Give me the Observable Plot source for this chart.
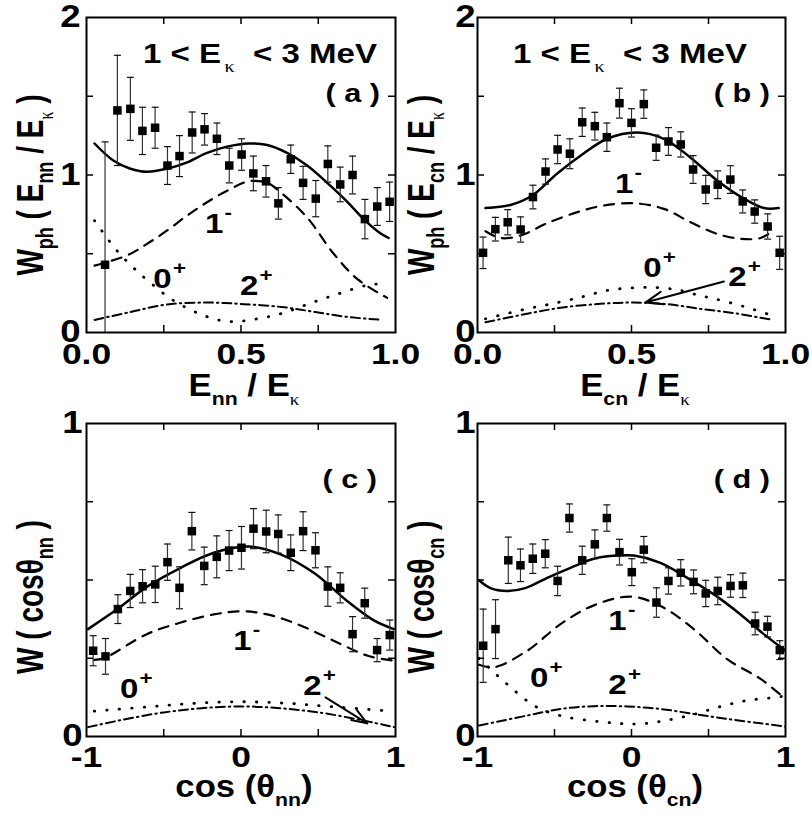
<!DOCTYPE html>
<html><head><meta charset="utf-8">
<script src="https://cdn.jsdelivr.net/npm/d3@7"></script>
<script src="https://cdn.jsdelivr.net/npm/@observablehq/plot@0.6"></script>
<style>
body{margin:0;background:#fff;}
#wrap{position:relative;width:811px;height:825px;overflow:hidden;background:#fff;}
#wrap svg{position:absolute;}
</style></head><body><div id="wrap"></div>
<script>
// ---------- Panel (a): W_ph(E_nn/E_K) ----------
const aX = [0.06,0.10,0.142,0.181,0.222,0.262,0.301,0.342,0.382,0.422,0.462,0.502,0.540,0.581,0.621,0.661,0.701,0.742,0.781,0.821,0.861,0.901,0.941,0.981];
const aY = [0.43,1.41,1.42,1.28,1.30,1.06,1.12,1.27,1.29,1.23,1.06,1.13,1.01,0.96,0.82,1.10,0.95,0.85,1.07,0.94,1.00,0.72,0.80,0.83];
const aErr = [0.78,0.35,0.20,0.15,0.13,0.12,0.13,0.13,0.10,0.10,0.11,0.10,0.11,0.10,0.10,0.09,0.105,0.115,0.115,0.11,0.12,0.125,0.12,0.125];
const aSolidX = [0.026,0.088,0.142,0.196,0.261,0.326,0.39,0.455,0.525,0.585,0.649,0.714,0.779,0.844,0.897,0.951,0.978];
const aSolidY = [1.20,1.09,1.04,1.02,1.04,1.08,1.14,1.18,1.20,1.19,1.14,1.06,0.95,0.83,0.72,0.63,0.60];
const aDashX = [0.026,0.132,0.196,0.261,0.326,0.39,0.455,0.525,0.585,0.628,0.714,0.80,0.876,0.973];
const aDashY = [0.425,0.49,0.563,0.648,0.743,0.827,0.90,0.96,0.95,0.89,0.73,0.50,0.34,0.22];
const aDotX = [0.026,0.094,0.142,0.18,0.223,0.272,0.364,0.455,0.547,0.639,0.73,0.822,0.908,0.96];
const aDotY = [0.71,0.53,0.43,0.36,0.29,0.215,0.12,0.07,0.085,0.125,0.19,0.25,0.30,0.31];
const aDdX = [0.026,0.142,0.261,0.39,0.51,0.64,0.74,0.84,0.957];
const aDdY = [0.08,0.13,0.178,0.19,0.18,0.16,0.13,0.10,0.08];
const aLabX = [0.385,0.218,0.498];
const aLabY = [0.63,0.28,0.235];

// ---------- Panel (b): W_ph(E_cn/E_K) ----------
const bX = [0.018,0.058,0.098,0.14,0.18,0.221,0.26,0.30,0.34,0.381,0.42,0.461,0.50,0.54,0.58,0.62,0.66,0.70,0.741,0.78,0.821,0.861,0.90,0.942,0.981];
const bY = [0.506,0.656,0.70,0.654,0.86,1.022,1.162,1.135,1.335,1.31,1.24,1.456,1.331,1.45,1.173,1.213,1.194,1.035,0.908,0.938,0.971,0.832,0.768,0.673,0.506];
const bErr = [0.10,0.075,0.08,0.08,0.075,0.08,0.09,0.095,0.09,0.088,0.09,0.095,0.09,0.09,0.08,0.088,0.08,0.088,0.09,0.088,0.088,0.073,0.074,0.08,0.105];
const bSolidX = [0.026,0.107,0.178,0.259,0.34,0.421,0.518,0.605,0.692,0.778,0.865,0.93,0.978];
const bSolidY = [0.79,0.81,0.87,1.01,1.13,1.23,1.27,1.23,1.11,0.965,0.85,0.79,0.79];
const bDashX = [0.026,0.075,0.14,0.226,0.324,0.41,0.513,0.605,0.692,0.778,0.854,0.919,0.962];
const bDashY = [0.643,0.60,0.616,0.694,0.764,0.806,0.82,0.785,0.70,0.626,0.595,0.60,0.65];
const bDotX = [0.026,0.16,0.26,0.345,0.42,0.51,0.59,0.66,0.72,0.77,0.865,0.957];
const bDotY = [0.087,0.15,0.19,0.229,0.267,0.284,0.284,0.267,0.235,0.214,0.165,0.108];
const bDdX = [0.026,0.161,0.269,0.399,0.508,0.616,0.724,0.843,0.957];
const bDdY = [0.065,0.119,0.157,0.182,0.19,0.18,0.15,0.12,0.08];
const bLabX = [0.448,0.54,0.816];
const bLabY = [0.88,0.35,0.29];
const bArrow = {x1: 0.80, y1: 0.324, x2: 0.545, y2: 0.19};

// ---------- Panel (c): W(cos theta_nn) ----------
const cX = [-0.957,-0.877,-0.797,-0.717,-0.637,-0.555,-0.476,-0.398,-0.318,-0.238,-0.157,-0.077,0.003,0.081,0.163,0.241,0.322,0.402,0.482,0.562,0.642,0.722,0.801,0.881,0.963];
const cY = [0.274,0.256,0.407,0.465,0.48,0.486,0.557,0.475,0.656,0.545,0.574,0.594,0.603,0.664,0.655,0.647,0.587,0.656,0.595,0.479,0.475,0.327,0.426,0.276,0.324];
const cErr = [0.048,0.057,0.046,0.053,0.053,0.058,0.058,0.067,0.06,0.06,0.067,0.064,0.068,0.064,0.068,0.061,0.057,0.062,0.056,0.063,0.048,0.056,0.048,0.037,0.048];
const cSolidX = [-0.99,-0.80,-0.61,-0.39,-0.176,0.05,0.256,0.471,0.687,0.86,0.99];
const cSolidY = [0.343,0.407,0.478,0.539,0.587,0.607,0.582,0.523,0.433,0.371,0.343];
const cDashX = [-0.95,-0.888,-0.61,-0.39,-0.176,0,0.17,0.364,0.60,0.82,0.99];
const cDashY = [0.245,0.25,0.327,0.364,0.39,0.40,0.39,0.359,0.306,0.258,0.242];
const cDotX = [-0.95,-0.6,-0.3,0,0.3,0.6,0.97];
const cDotY = [0.081,0.095,0.106,0.111,0.106,0.095,0.081];
const cDdX = [-0.99,-0.5,0,0.5,0.99];
const cDdY = [0.03,0.077,0.096,0.077,0.03];
const cLabX = [-0.047,-0.78,0.406];
const cLabY = [0.274,0.12,0.13];
const cArrow = {x1: 0.547, y1: 0.125, x2: 0.817, y2: 0.042};

// ---------- Panel (d): W(cos theta_cn) ----------
const dX = [-0.963,-0.883,-0.80,-0.721,-0.641,-0.56,-0.48,-0.403,-0.32,-0.238,-0.16,-0.078,0.002,0.08,0.162,0.24,0.32,0.403,0.482,0.56,0.643,0.723,0.803,0.883,0.963];
const dY = [0.29,0.343,0.563,0.547,0.568,0.584,0.497,0.698,0.563,0.614,0.698,0.589,0.525,0.597,0.428,0.497,0.523,0.494,0.457,0.465,0.481,0.483,0.361,0.351,0.276];
const dErr = [0.117,0.094,0.074,0.052,0.047,0.045,0.047,0.045,0.045,0.046,0.042,0.041,0.043,0.042,0.047,0.042,0.042,0.038,0.042,0.044,0.036,0.039,0.036,0.033,0.03];
const dSolidX = [-0.99,-0.916,-0.807,-0.69,-0.547,-0.396,-0.245,-0.093,0.015,0.188,0.362,0.535,0.708,0.859,1.0];
const dSolidY = [0.499,0.474,0.465,0.474,0.507,0.539,0.568,0.578,0.578,0.555,0.507,0.454,0.39,0.327,0.274];
const dDashX = [-0.99,-0.894,-0.677,-0.461,-0.245,-0.006,0.188,0.405,0.621,0.838,1.0];
const dDashY = [0.229,0.221,0.274,0.359,0.419,0.447,0.417,0.343,0.247,0.184,0.12];
const dDotX = [-0.99,-0.81,-0.62,-0.45,-0.25,-0.09,0.05,0.21,0.40,0.58,0.75,0.935,1.0];
const dDotY = [0.25,0.168,0.095,0.065,0.05,0.042,0.04,0.05,0.07,0.096,0.115,0.125,0.13];
const dDdX = [-0.99,-0.677,-0.461,-0.245,-0.028,0.188,0.405,0.621,0.838,1.0];
const dDdY = [0.035,0.067,0.088,0.097,0.096,0.088,0.072,0.056,0.042,0.032];
const dLabX = [-0.147,-0.656,-0.147];
const dLabY = [0.34,0.157,0.134];

// ---------- shared labels / ticks ----------
const labBase = ["1","0","2"];
const labSup = ["-","+","+"];
const energyTicks = [0, 0.5, 1];
const energyMinor = [0.25, 0.5, 0.75];
const cosTicks = [-1, 0, 1];
const cosMinor = [-0.5, 0, 0.5];
const wphTicks = [0, 1, 2];
const wphMinor = [0.5, 1, 1.5];
const wTicks = [0, 1];
const wMinor = [0.25, 0.5, 0.75];

const SANS = "'Liberation Sans', Arial, Helvetica, sans-serif";
const SERIF = "'Liberation Serif', 'Times New Roman', serif";
const SX = 1.18;

function richText(sel, x, y, parts, o = {}) {
  const g = sel.append("g").attr("transform",
    `translate(${x},${y}) scale(${o.sx ?? SX},1)` + (o.rotate ? ` rotate(${o.rotate})` : ""));
  const t = g.append("text")
    .attr("text-anchor", o.anchor || "start")
    .attr("font-family", SANS).attr("font-weight", "bold")
    .attr("font-size", o.size || 28).attr("fill", "black")
    .style("white-space", "pre");
  let cur = 0;
  for (const p of parts) {
    const ts = t.append("tspan").text(p.t);
    const target = p.shift || 0;
    if (target !== cur) { ts.attr("dy", target - cur); cur = target; }
    if (p.size) ts.attr("font-size", p.size);
    if (p.serif) ts.attr("font-family", SERIF).attr("font-weight", "normal");
    if (p.dx) ts.attr("dx", p.dx);
  }
}

const capSymbol = {draw(ctx, size) { const r = Math.sqrt(size / Math.PI); ctx.moveTo(-r, 0); ctx.lineTo(r, 0); }};
const zip2 = (xs, ys) => xs.map((x, i) => ({x, y: ys[i]}));

function makePanel(p) {
  const iw = p.width - p.ml - p.mr, ih = p.height - p.mt - p.mb;
  const pts = p.px.map((x, i) => ({x, y: p.py[i], e: p.pe[i]}));
  const marks = [
    Plot.line(zip2(p.sol[0], p.sol[1]), {x: "x", y: "y", curve: "catmull-rom", stroke: "black", strokeWidth: 2.5, clip: true}),
    Plot.line(zip2(p.dash[0], p.dash[1]), {x: "x", y: "y", curve: "catmull-rom", stroke: "black", strokeWidth: 2.2, strokeDasharray: "10,8", clip: true}),
    Plot.line(zip2(p.dot[0], p.dot[1]), {x: "x", y: "y", curve: "catmull-rom", stroke: "black", strokeWidth: 2.8, strokeDasharray: "0.5,12", strokeLinecap: "round", clip: true}),
    Plot.line(zip2(p.dd[0], p.dd[1]), {x: "x", y: "y", curve: "catmull-rom", stroke: "black", strokeWidth: 2, strokeDasharray: "9,4,1.5,4", clip: true}),
    Plot.ruleX(pts, {x: "x", y1: d => d.y - d.e, y2: d => d.y + d.e, stroke: "#333", strokeWidth: 1.2, clip: true}),
    Plot.dot(pts, {x: "x", y: d => d.y + d.e, symbol: capSymbol, r: 3.5, stroke: "#111", strokeWidth: 1.2, fill: "none", clip: true}),
    Plot.dot(pts, {x: "x", y: d => d.y - d.e, symbol: capSymbol, r: 3.5, stroke: "#111", strokeWidth: 1.2, fill: "none", clip: true}),
    Plot.dot(pts, {x: "x", y: "y", symbol: "square", r: 4.8, fill: "black", stroke: "none"}),
  ];
  if (p.arrow) marks.push(Plot.arrow([p.arrow], {x1: "x1", y1: "y1", x2: "x2", y2: "y2", stroke: "black", strokeWidth: 2, headLength: 14, headAngle: 40}));
  marks.push(
    Plot.tickX(p.xMinor, {x: d => d, insetTop: ih - 7, stroke: "black", strokeWidth: 1.5}),
    Plot.tickX(p.xMinor, {x: d => d, insetBottom: ih - 7, stroke: "black", strokeWidth: 1.5}),
    Plot.tickY(p.yMinor, {y: d => d, insetRight: iw - 7, stroke: "black", strokeWidth: 1.5}),
    Plot.tickY(p.yMinor, {y: d => d, insetLeft: iw - 7, stroke: "black", strokeWidth: 1.5}),
    Plot.frame({stroke: "black", strokeWidth: 2}),
    Plot.axisX(p.xTicks, {tickSize: 0, tickPadding: p.xPad, tickFormat: p.xFmt, fontSize: 30, fontWeight: "bold", fontFamily: SANS, label: null}),
    Plot.axisY(p.yTicks, {tickSize: 0, tickPadding: p.yPad, tickFormat: d => String(d), fontSize: 31, fontWeight: "bold", fontFamily: SANS, label: null})
  );
  const plot = Plot.plot({
    width: p.width, height: p.height,
    marginTop: p.mt, marginLeft: p.ml, marginRight: p.mr, marginBottom: p.mb,
    x: {domain: p.xDomain, label: null},
    y: {domain: p.yDomain, label: null},
    style: `background: transparent; overflow: visible; font-family: ${SANS}; font-weight: bold; color: black;`,
    marks
  });
  plot.style.left = p.left + "px";
  plot.style.top = p.top + "px";
  document.getElementById("wrap").appendChild(plot);
  const svg = d3.select(plot);
  // horizontal stretch of tick labels (keeps Plot's own em offsets)
  svg.selectAll('g[aria-label$="tick label"] text').each(function () {
    const t = d3.select(this);
    const xa = t.attr("x"), ya = t.attr("y");
    let pre = "";
    if (xa != null && xa !== "" && !isNaN(+xa)) { pre += ` translate(${+xa},0)`; t.attr("x", null); }
    if (ya != null && ya !== "" && !isNaN(+ya)) { pre += ` translate(0,${+ya})`; t.attr("y", null); }
    t.attr("transform", `${t.attr("transform") || ""}${pre} scale(${SX},1)`);
  });
  const sx = plot.scale("x"), sy = plot.scale("y");
  // curve labels 1-, 0+, 2+
  p.labX.forEach((lx, i) => {
    richText(svg, sx.apply(lx), sy.apply(p.labY[i]),
      [{t: labBase[i]}, {t: labSup[i], size: 19, shift: -14, dx: 1}], {size: 28});
  });
  if (p.title) richText(svg, p.title.x, p.title.y, [{t: "1 < E"}, {t: "κ", size: 17, serif: true, shift: 9, dx: 3}, {t: "  < 3 MeV", shift: 0}], {anchor: p.title.anchor, size: 28});
  richText(svg, p.tag.x, p.tag.y, [{t: p.tag.t}], {anchor: "end", size: 26});
  richText(svg, p.ylab.x, p.ylab.y, p.ylab.parts, {anchor: "middle", rotate: -90, size: 28, sx: 1.3});
  richText(svg, p.xlab.x, p.xlab.y, p.xlab.parts, {anchor: "middle", size: 31, sx: 1.12});
}

const fmt1 = d => d.toFixed(1);
const fmtC = d => String(d);

makePanel({left: 0, top: 0, width: 400, height: 406, mt: 17, ml: 86, mr: 5, mb: 74,
  xDomain: [0, 1], yDomain: [0, 2], xTicks: energyTicks, xMinor: energyMinor, yTicks: wphTicks, yMinor: wphMinor,
  xFmt: fmt1, xPad: 10, yPad: 6,
  px: aX, py: aY, pe: aErr, sol: [aSolidX, aSolidY], dash: [aDashX, aDashY], dot: [aDotX, aDotY], dd: [aDdX, aDdY],
  labX: aLabX, labY: aLabY,
  title: {x: 377, y: 63, anchor: "end"}, tag: {x: 380, y: 102, t: "( a )"},
  ylab: {x: 43, y: 185, parts: [{t: "W"}, {t: "ph", size: 18, shift: 8}, {t: " ( E", shift: 0}, {t: "nn", size: 18, shift: 8}, {t: " / E", shift: 0}, {t: "κ", size: 16, serif: true, shift: 8}, {t: " )", shift: 0}]},
  xlab: {x: 244, y: 396, parts: [{t: "E"}, {t: "nn", size: 19, shift: 9}, {t: " / E", shift: 0}, {t: "κ", size: 17, serif: true, shift: 9}]}
});

makePanel({left: 400, top: 0, width: 411, height: 406, mt: 17, ml: 77, mr: 26, mb: 74,
  xDomain: [0, 1], yDomain: [0, 2], xTicks: energyTicks, xMinor: energyMinor, yTicks: wphTicks, yMinor: wphMinor,
  xFmt: fmt1, xPad: 10, yPad: 2,
  px: bX, py: bY, pe: bErr, sol: [bSolidX, bSolidY], dash: [bDashX, bDashY], dot: [bDotX, bDotY], dd: [bDdX, bDdY],
  labX: bLabX, labY: bLabY, arrow: bArrow,
  title: {x: 113, y: 63, anchor: "start"}, tag: {x: 370, y: 102, t: "( b )"},
  ylab: {x: 34, y: 185, parts: [{t: "W"}, {t: "ph", size: 18, shift: 8}, {t: " ( E", shift: 0}, {t: "cn", size: 18, shift: 8}, {t: " / E", shift: 0}, {t: "κ", size: 16, serif: true, shift: 8}, {t: " )", shift: 0}]},
  xlab: {x: 235, y: 396, parts: [{t: "E"}, {t: "cn", size: 19, shift: 9}, {t: " / E", shift: 0}, {t: "κ", size: 17, serif: true, shift: 9}]}
});

makePanel({left: 0, top: 406, width: 400, height: 419, mt: 17, ml: 86, mr: 5, mb: 89,
  xDomain: [-1, 1], yDomain: [0, 1], xTicks: cosTicks, xMinor: cosMinor, yTicks: wTicks, yMinor: wMinor,
  xFmt: fmtC, xPad: 9, yPad: 4,
  px: cX, py: cY, pe: cErr, sol: [cSolidX, cSolidY], dash: [cDashX, cDashY], dot: [cDotX, cDotY], dd: [cDdX, cDdY],
  labX: cLabX, labY: cLabY, arrow: cArrow,
  title: null, tag: {x: 377, y: 82, t: "( c )"},
  ylab: {x: 43, y: 191, parts: [{t: "W ( cosθ"}, {t: "nn", size: 18, shift: 8}, {t: " )", shift: 0}]},
  xlab: {x: 244, y: 391, parts: [{t: "cos (θ"}, {t: "nn", size: 19, shift: 9}, {t: ")", shift: 0}]}
});

makePanel({left: 400, top: 406, width: 411, height: 419, mt: 17, ml: 77, mr: 26, mb: 89,
  xDomain: [-1, 1], yDomain: [0, 1], xTicks: cosTicks, xMinor: cosMinor, yTicks: wTicks, yMinor: wMinor,
  xFmt: fmtC, xPad: 9, yPad: 2,
  px: dX, py: dY, pe: dErr, sol: [dSolidX, dSolidY], dash: [dDashX, dDashY], dot: [dDotX, dDotY], dd: [dDdX, dDdY],
  labX: dLabX, labY: dLabY,
  title: null, tag: {x: 370, y: 82, t: "( d )"},
  ylab: {x: 34, y: 191, parts: [{t: "W ( cosθ"}, {t: "cn", size: 18, shift: 8}, {t: " )", shift: 0}]},
  xlab: {x: 235, y: 391, parts: [{t: "cos (θ"}, {t: "cn", size: 19, shift: 9}, {t: ")", shift: 0}]}
});
</script>
</body></html>
